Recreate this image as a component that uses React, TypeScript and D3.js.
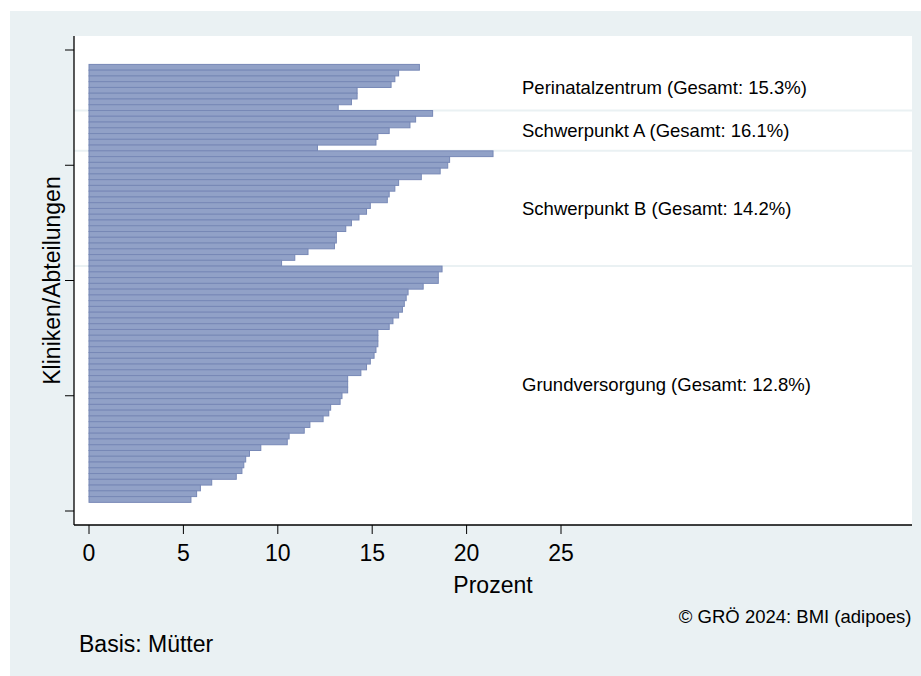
import * as d3 from 'd3';

// Anteil je Klinik/Abteilung (Prozent), sortiert innerhalb der Versorgungsstufe
const perinatal = [17.5, 16.4, 16.2, 16.0, 14.2, 14.2, 13.9, 13.2];
const schwerpunktA = [18.2, 17.3, 17.0, 15.9, 15.3, 15.2, 12.1];
const schwerpunktB = [21.4, 19.1, 19.0, 18.6, 17.6, 16.4, 16.2, 15.9, 15.8, 14.9,
    14.7, 14.3, 13.9, 13.6, 13.1, 13.1, 13.0, 11.6, 10.9, 10.2];
const grundversorgung = [18.7, 18.5, 18.5, 17.7, 16.9, 16.8, 16.7, 16.6, 16.4, 16.1,
    15.9, 15.3, 15.3, 15.3, 15.2, 15.1, 14.9, 14.7, 14.4, 13.7,
    13.7, 13.7, 13.4, 13.3, 12.8, 12.7, 12.4, 11.7, 11.4, 10.6,
    10.5, 9.1, 8.5, 8.3, 8.2, 8.1, 7.8, 6.5, 5.9, 5.7, 5.4];

const groupNames = ['Perinatalzentrum', 'Schwerpunkt A', 'Schwerpunkt B', 'Grundversorgung'];
const groupTotals = [15.3, 16.1, 14.2, 12.8];
const groupValues = [perinatal, schwerpunktA, schwerpunktB, grundversorgung];

const xTicks = [0, 5, 10, 15, 20, 25];
const yTicks = [0, 20, 40, 60, 80];

const BG = '#eaf1f3';
const FONT = '"Liberation Sans", Arial, sans-serif';

const App = () => {
    const width = 921;
    const height = 676;
    const plot = {left: 74, top: 36, right: 912, bottom: 525};

    const x = d3.scaleLinear().domain([0, 25]).range([89, 561]);
    const y = d3.scaleLinear().domain([0, 80]).range([511, 50]);
    const bandH = y(0) - y(1);

    const nBars = d3.sum(groupValues, g => g.length);
    let idx = 0;
    const bars: {pos: number, value: number}[] = [];
    const groups = groupValues.map((vals, gi) => {
        const first = nBars + 1 - idx;
        vals.forEach(v => {
            bars.push({pos: nBars + 1 - idx, value: v});
            idx++;
        });
        const last = nBars + 2 - idx;
        return {name: groupNames[gi], total: groupTotals[gi], first, last};
    });

    return (
        <svg width={width} height={height}
             style={{position: 'absolute', left: 0, top: 0, background: '#fff'}}>
            <rect x={10} y={11} width={width - 10} height={height - 11} fill={BG}/>
            <rect x={plot.left} y={plot.top} width={plot.right - plot.left}
                  height={plot.bottom - plot.top} fill="#fff"/>

            {groups.slice(0, -1).map(g => (
                <line key={g.name} x1={plot.left} x2={plot.right}
                      y1={y(g.last - 0.5)} y2={y(g.last - 0.5)}
                      stroke={BG} strokeWidth={2}/>
            ))}

            {bars.map((b, i) => (
                <rect key={i} x={x(0)} y={y(b.pos) - bandH / 2}
                      width={x(b.value) - x(0)} height={bandH}
                      fill="#91a1c7" stroke="#7788b6" strokeWidth={1}/>
            ))}

            {groups.map(g => (
                <text key={g.name} x={522} y={y((g.first + g.last) / 2)}
                      dominantBaseline="central" fontFamily={FONT} fontSize={18.5}
                      fill="#000">
                    {`${g.name} (Gesamt: ${g.total.toFixed(1)}%)`}
                </text>
            ))}

            <line x1={plot.left} x2={plot.left} y1={plot.top} y2={plot.bottom}
                  stroke="#000" strokeWidth={1.3}/>
            <line x1={plot.left} x2={plot.right} y1={plot.bottom} y2={plot.bottom}
                  stroke="#000" strokeWidth={1.3}/>

            {yTicks.map(t => (
                <line key={t} x1={plot.left - 9} x2={plot.left} y1={y(t)} y2={y(t)}
                      stroke="#000" strokeWidth={1}/>
            ))}
            {xTicks.map(t => (
                <g key={t}>
                    <line x1={x(t)} x2={x(t)} y1={plot.bottom} y2={plot.bottom + 9}
                          stroke="#000" strokeWidth={1}/>
                    <text x={x(t)} y={561} textAnchor="middle" fontFamily={FONT}
                          fontSize={23} fill="#000">{t}</text>
                </g>
            ))}

            <text x={(plot.left + plot.right) / 2} y={593} textAnchor="middle"
                  fontFamily={FONT} fontSize={23} fill="#000">Prozent</text>
            <text transform={`translate(59.5,${(plot.top + plot.bottom) / 2}) rotate(-90)`}
                  textAnchor="middle" fontFamily={FONT} fontSize={23}
                  fill="#000">Kliniken/Abteilungen</text>
            <text x={911.5} y={622.5} textAnchor="end" fontFamily={FONT} fontSize={18.5}
                  fill="#000">© GRÖ 2024: BMI (adipoes)</text>
            <text x={79} y={652} fontFamily={FONT} fontSize={23} fill="#000">Basis: Mütter</text>
        </svg>
    );
};

export default App;
